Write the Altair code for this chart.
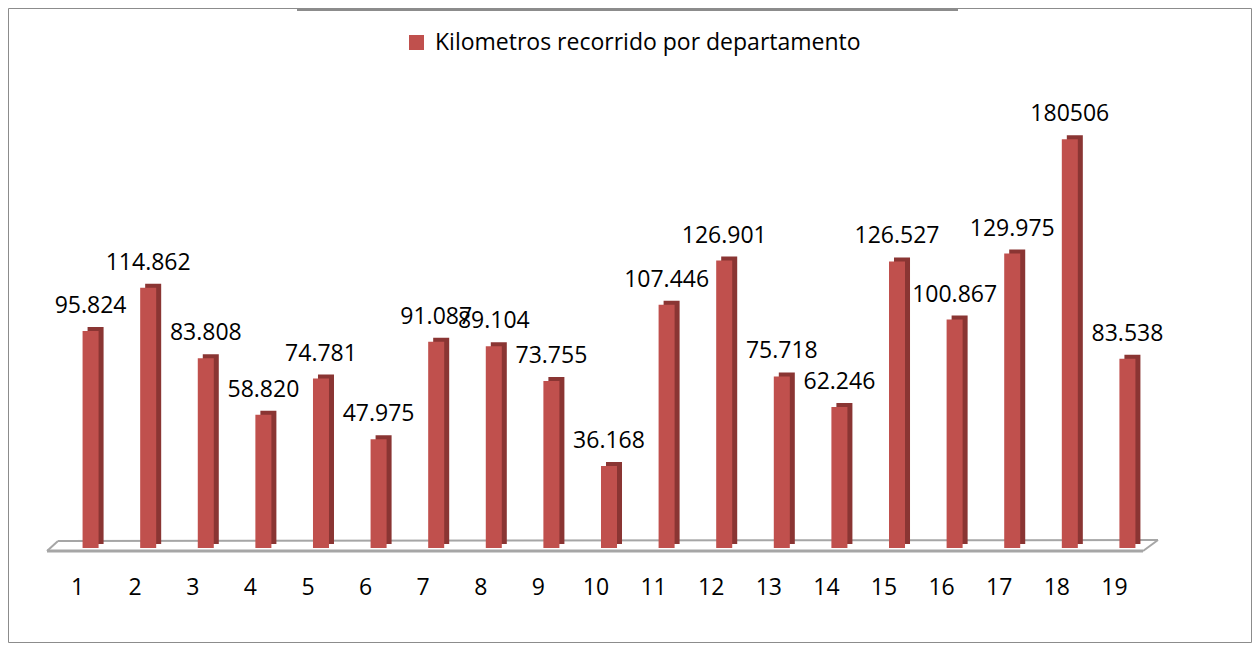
import altair as alt
import pandas as pd

departamentos = ["1", "2", "3", "4", "5", "6", "7", "8", "9", "10",
                 "11", "12", "13", "14", "15", "16", "17", "18", "19"]
kilometros = [95.824, 114.862, 83.808, 58.820, 74.781, 47.975, 91.087, 89.104,
              73.755, 36.168, 107.446, 126.901, 75.718, 62.246, 126.527,
              100.867, 129.975, 180.506, 83.538]
etiquetas = ["95.824", "114.862", "83.808", "58.820", "74.781", "47.975",
             "91.087", "89.104", "73.755", "36.168", "107.446", "126.901",
             "75.718", "62.246", "126.527", "100.867", "129.975", "180506",
             "83.538"]
serie = "Kilometros recorrido por departamento"

df = pd.DataFrame({
    "departamento": departamentos,
    "km": kilometros,
    "etiqueta": etiquetas,
    "serie": [serie] * len(departamentos),
})

FONT = "Open Sans"
W, H = 1110, 453
L, T, R, B = 46, 87, 88, 95
FACE = "#C0504D"
SIDE = "#8A3533"
GRAY = "#8c8c8c"

xenc = alt.X(
    "departamento:N",
    sort=departamentos,
    scale=alt.Scale(paddingInner=0.722, paddingOuter=0.496),
    axis=alt.Axis(title=None, labelAngle=0, domain=False, ticks=False,
                  grid=False, labelPadding=28, labelOffset=-13,
                  labelFont=FONT, labelFontSize=23, labelColor="black"),
)
yenc = alt.Y("km:Q", scale=alt.Scale(domain=[0, 200]), axis=None)

base = alt.Chart(df)

side = base.mark_bar(color=SIDE, xOffset=5, yOffset=-4).encode(x=xenc, y=yenc)
face = base.mark_bar().encode(
    x=xenc, y=yenc,
    color=alt.Color("serie:N", scale=alt.Scale(range=[FACE]),
                    legend=alt.Legend(title=None, orient="none",
                                      legendX=351, legendY=-64, padding=0,
                                      symbolType="square", symbolSize=225,
                                      symbolStrokeWidth=0, labelFont=FONT,
                                      labelFontSize=23, labelColor="black",
                                      labelOffset=7, labelLimit=0)),
)
labels = base.mark_text(font=FONT, fontSize=23, color="black",
                        baseline="middle", dy=-25).encode(
    x=xenc, y=yenc, text="etiqueta:N")

one = alt.Data(values=[{"k": 1}])

def seg(x1, y1, x2, y2, w=2, c="#a6a6a6"):
    return alt.Chart(one).mark_rule(color=c, strokeWidth=w).encode(
        x=alt.value(x1), y=alt.value(y1), x2=alt.value(x2), y2=alt.value(y2))

floor = (seg(-7, 456, 4, 446) + seg(4, 446, 1104, 445) +
         seg(1104, 445, 1089, 456) + seg(-7, 456, 1089, 456, w=3))

frame = alt.Chart(one).mark_rect(filled=False, stroke=GRAY, strokeWidth=1).encode(
    x=alt.value(-L + 0.5), x2=alt.value(W + R - 0.5),
    y=alt.value(-T + 0.5), y2=alt.value(H + B - 0.5))
topbar = alt.Chart(one).mark_rect(color=GRAY).encode(
    x=alt.value(243), x2=alt.value(904),
    y=alt.value(-T), y2=alt.value(-T + 3))

chart = alt.layer(frame, topbar, floor, side, face, labels).properties(
    width=W, height=H,
    autosize=alt.AutoSizeParams(type="none"),
    padding={"left": L, "top": T, "right": R, "bottom": B},
    background="white",
).configure_view(stroke=None)

chart.save("out.html", embed_options={"renderer": "svg", "actions": False})
